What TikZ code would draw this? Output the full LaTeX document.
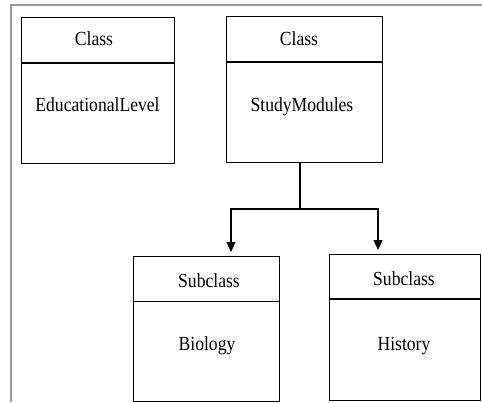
\documentclass[tikz,border=0pt]{standalone}
\usepackage{fontspec}
\setmainfont{Liberation Serif}
\usetikzlibrary{arrows.meta}
\newcommand\sqz[1]{\scalebox{0.88}[1]{#1}}
\begin{document}
\begin{tikzpicture}[x=1pt,y=-1pt,
  box/.style={draw,line width=1.2pt,inner sep=0pt,anchor=north west},
  lbl/.style={font=\fontsize{20}{22}\selectfont,inner sep=0pt},
  conn/.style={line width=1.2pt},
  arr/.style={line width=1.2pt,-{Triangle[length=10pt,width=9pt]}},
  frame/.style={draw=black!40,line width=1.6pt}]
\useasboundingbox (0,0) rectangle (482,402);
\draw[frame] (11,402) -- (11,5) -- (482,5);
% box 1
\node[box,minimum width=153pt,minimum height=146pt] (b1) at (21,17) {};
\draw[conn] (21,63) -- (174,63);
\node[lbl] (b1t) at (94,39) {\sqz{Class}};
\node[lbl] (b1n) at (97.5,105) {\sqz{EducationalLevel}};
% box 2
\node[box,minimum width=156pt,minimum height=146pt] (b2) at (226,16) {};
\draw[conn] (226,62) -- (382,62);
\node[lbl] (b2t) at (299,38.5) {\sqz{Class}};
\node[lbl] (b2n) at (302,107) {\sqz{StudyModules}};
% box 3
\node[box,minimum width=146pt,minimum height=145pt] (b3) at (133,256) {};
\draw[conn] (133,301.5) -- (279,301.5);
\node[lbl] (b3t) at (209,280.5) {\sqz{Subclass}};
\node[lbl] (b3n) at (207,346) {\sqz{Biology}};
% box 4
\node[box,minimum width=151pt,minimum height=146pt] (b4) at (329,254) {};
\draw[conn] (329,299) -- (480,299);
\node[lbl] (b4t) at (404,278.5) {\sqz{Subclass}};
\node[lbl] (b4n) at (404,346) {\sqz{History}};
% connectors
\coordinate (j) at (300,209);
\coordinate (t3) at (231,252);
\coordinate (t4) at (378,250);
\draw[conn] (b2.south -| j) -- (j);
\draw[arr] (j) -| (t3);
\draw[arr] (j) -| (t4);
\end{tikzpicture}
\end{document}
